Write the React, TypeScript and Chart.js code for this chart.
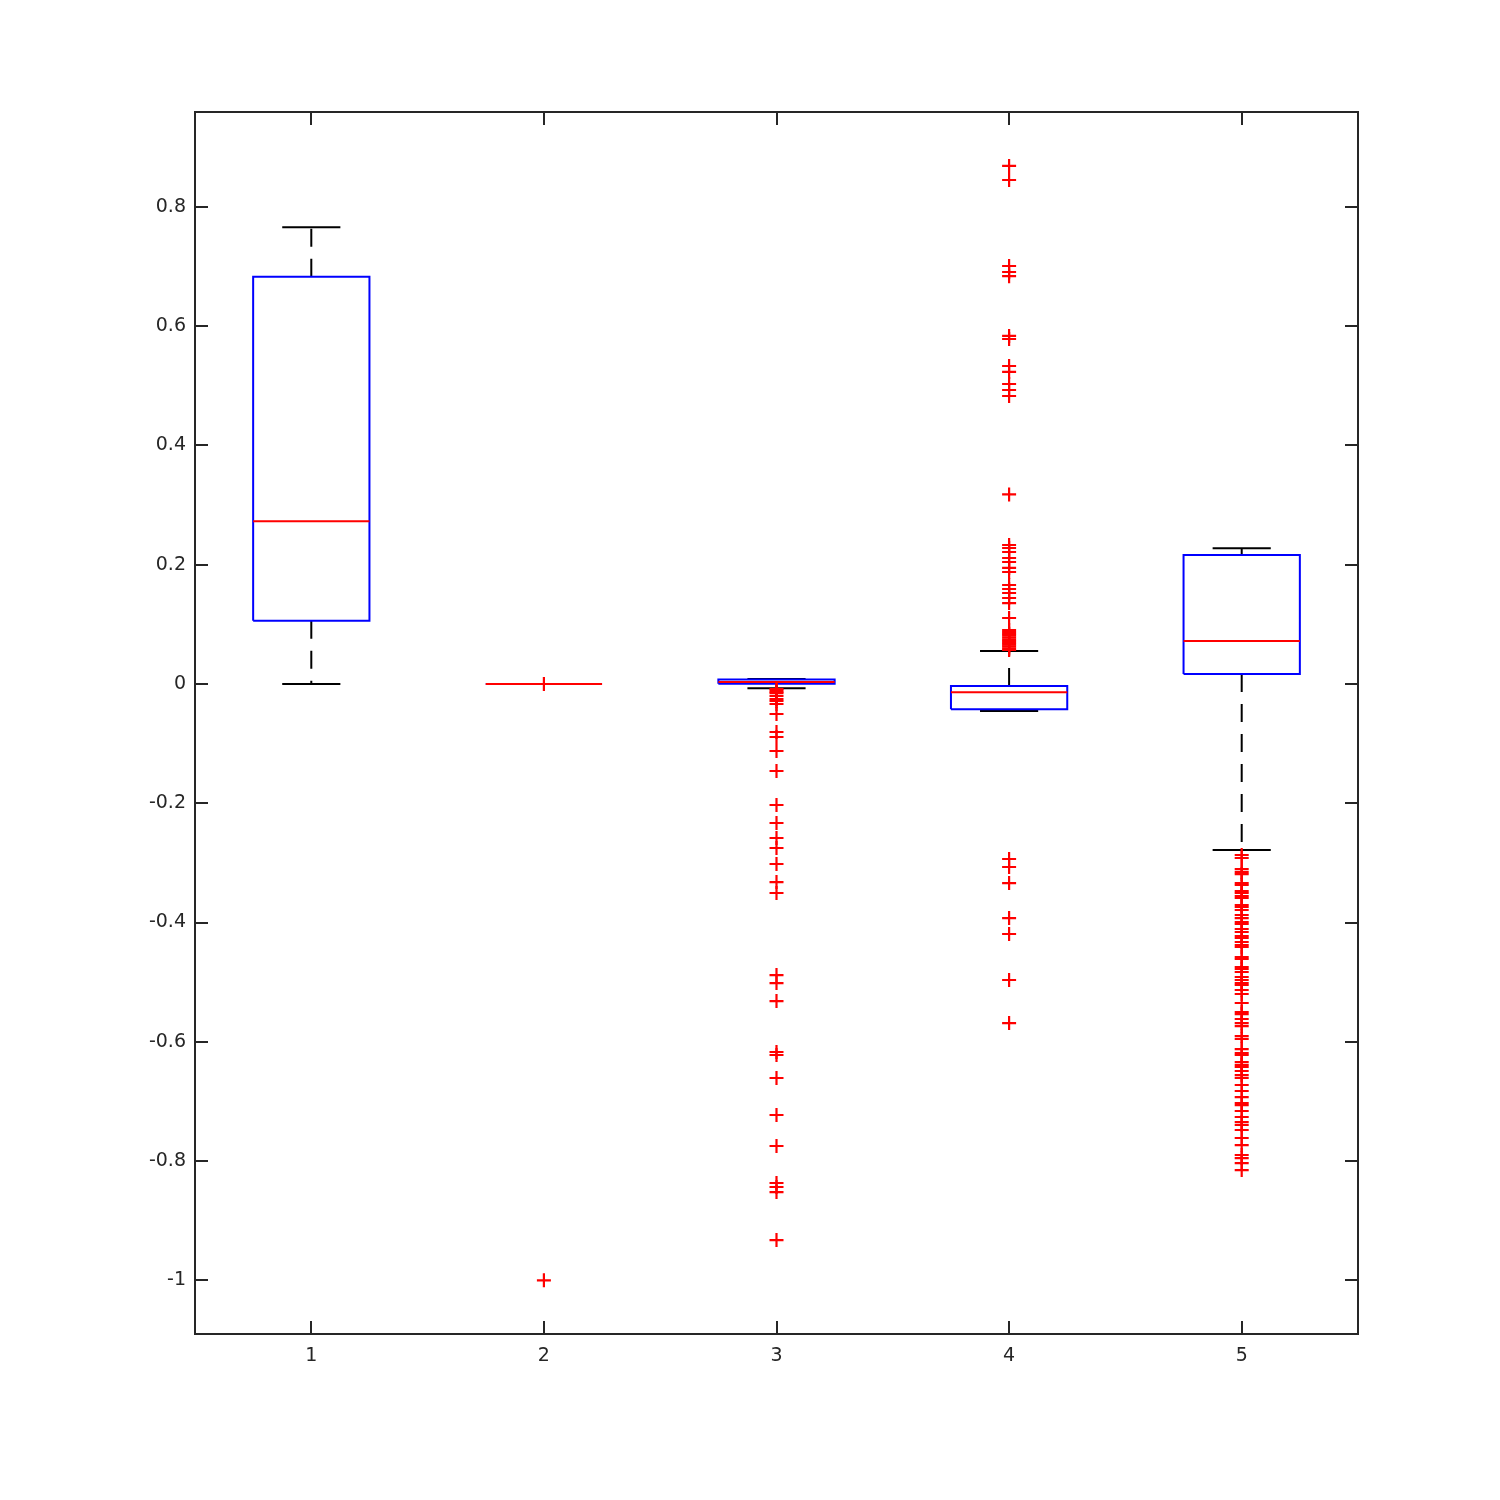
import React, { useEffect, useRef } from "react";
import { Chart, registerables } from "chart.js";

Chart.register(...registerables);

const categories = [1, 2, 3, 4, 5];
const q1 = [0.106, 0, 0.0003, -0.0425, 0.0168];
const median = [0.273, 0, 0.0034, -0.0139, 0.0721];
const q3 = [0.683, 0, 0.0076, -0.0034, 0.2164];
const whiskerLow = [0, 0, -0.0073, -0.0453, -0.2784];
const whiskerHigh = [0.766, 0, 0.0086, 0.0553, 0.2276];

const outliers1: number[] = [];
const outliers2 = [0, -1];
const outliers3 = [
  -0.0084, -0.0105, -0.0134, -0.0155, -0.0201, -0.0252, -0.0285, -0.0335, -0.0503,
  -0.0805, -0.0889, -0.1124, -0.1459, -0.2029, -0.2331, -0.2583, -0.275, -0.3019,
  -0.3321, -0.3505, -0.4881, -0.5015, -0.5317, -0.6172, -0.6222, -0.6608, -0.7228,
  -0.7748, -0.8369, -0.8436, -0.852, -0.9325,
];
const outliers4 = [
  0.8688, 0.8453, 0.701, 0.691, 0.684, 0.5837, 0.5786, 0.5333, 0.5233, 0.5031, 0.4931,
  0.483, 0.318, 0.2331, 0.2281, 0.2214, 0.2113, 0.2046, 0.1946, 0.1878, 0.166, 0.1593,
  0.1526, 0.1442, 0.1358, 0.1107, 0.0905, 0.087, 0.084, 0.081, 0.078, 0.075, 0.072,
  0.069, 0.066, 0.063, 0.06, 0.057, -0.2935, -0.3069, -0.3338, -0.3925, -0.4193,
  -0.4964, -0.5686,
];
const outliers5 = [
  -0.2868, -0.2918, -0.3103, -0.3154, -0.3187, -0.3338, -0.3371, -0.3472, -0.3505,
  -0.3555, -0.3589, -0.3706, -0.374, -0.379, -0.3874, -0.3925, -0.3992, -0.4025,
  -0.4109, -0.4159, -0.4226, -0.426, -0.4327, -0.4377, -0.4411, -0.4579, -0.4612,
  -0.4746, -0.478, -0.483, -0.4914, -0.4964, -0.5015, -0.5048, -0.5132, -0.5199,
  -0.535, -0.5501, -0.5535, -0.5618, -0.5686, -0.5736, -0.5904, -0.5954, -0.6122,
  -0.6189, -0.6222, -0.634, -0.639, -0.6423, -0.649, -0.6558, -0.6608, -0.6725,
  -0.6826, -0.6927, -0.7027, -0.7061, -0.7161, -0.7262, -0.7346, -0.7396, -0.748,
  -0.7614, -0.7732, -0.7899, -0.795, -0.8034, -0.8151,
];
const outliers = [outliers1, outliers2, outliers3, outliers4, outliers5];

const yTicks = [-1, -0.8, -0.6, -0.4, -0.2, 0, 0.2, 0.4, 0.6, 0.8];
const xTicks = categories;

const BOX_HALF = 0.25;
const CAP_HALF = 0.125;
const AXIS_COLOR = "#262626";
const FONT = { family: "'DejaVu Sans', sans-serif", size: 19 };

type Pt = { x: number; y: number | null };

function buildBoxes(): Pt[] {
  const pts: Pt[] = [];
  categories.forEach((c, i) => {
    pts.push({ x: c - BOX_HALF, y: q1[i] });
    pts.push({ x: c + BOX_HALF, y: q1[i] });
    pts.push({ x: c + BOX_HALF, y: q3[i] });
    pts.push({ x: c - BOX_HALF, y: q3[i] });
    pts.push({ x: c - BOX_HALF, y: q1[i] });
    pts.push({ x: c, y: null });
  });
  return pts;
}

function buildMedians(): Pt[] {
  const pts: Pt[] = [];
  categories.forEach((c, i) => {
    pts.push({ x: c - BOX_HALF, y: median[i] });
    pts.push({ x: c + BOX_HALF, y: median[i] });
    pts.push({ x: c, y: null });
  });
  return pts;
}

function buildWhiskers(): Pt[] {
  const pts: Pt[] = [];
  categories.forEach((c, i) => {
    pts.push({ x: c, y: q3[i] });
    pts.push({ x: c, y: whiskerHigh[i] });
    pts.push({ x: c, y: null });
    pts.push({ x: c, y: q1[i] });
    pts.push({ x: c, y: whiskerLow[i] });
    pts.push({ x: c, y: null });
  });
  return pts;
}

function buildCaps(): Pt[] {
  const pts: Pt[] = [];
  categories.forEach((c, i) => {
    pts.push({ x: c - CAP_HALF, y: whiskerHigh[i] });
    pts.push({ x: c + CAP_HALF, y: whiskerHigh[i] });
    pts.push({ x: c, y: null });
    pts.push({ x: c - CAP_HALF, y: whiskerLow[i] });
    pts.push({ x: c + CAP_HALF, y: whiskerLow[i] });
    pts.push({ x: c, y: null });
  });
  return pts;
}

function buildOutliers(): Pt[] {
  const pts: Pt[] = [];
  categories.forEach((c, i) => {
    outliers[i].forEach((v) => pts.push({ x: c, y: v }));
  });
  return pts;
}

const framePlugin = {
  id: "matlabFrame",
  afterDraw(chart: any) {
    const { ctx, chartArea: a, scales } = chart;
    const tl = 13;
    ctx.save();
    ctx.strokeStyle = AXIS_COLOR;
    ctx.lineWidth = 2;
    ctx.beginPath();
    yTicks.forEach((v) => {
      const py = Math.round(scales.y.getPixelForValue(v));
      ctx.moveTo(a.left, py);
      ctx.lineTo(a.left + tl, py);
      ctx.moveTo(a.right, py);
      ctx.lineTo(a.right - tl, py);
    });
    xTicks.forEach((v) => {
      const px = Math.round(scales.x.getPixelForValue(v));
      ctx.moveTo(px, a.bottom);
      ctx.lineTo(px, a.bottom - tl);
      ctx.moveTo(px, a.top);
      ctx.lineTo(px, a.top + tl);
    });
    ctx.stroke();
    ctx.strokeRect(a.left, a.top, a.right - a.left, a.bottom - a.top);
    ctx.restore();
  },
};

export default function App() {
  const ref = useRef<HTMLCanvasElement | null>(null);

  useEffect(() => {
    if (!ref.current) return;
    const lineBase = {
      type: "line" as const,
      showLine: true,
      pointRadius: 0,
      pointHoverRadius: 0,
      borderWidth: 2,
      spanGaps: false,
      fill: false,
      tension: 0,
    };
    const chart = new Chart(ref.current, {
      type: "line",
      data: {
        datasets: [
          {
            ...lineBase,
            data: buildOutliers(),
            type: "scatter",
            showLine: false,
            pointStyle: "cross",
            pointRadius: 7,
            pointBorderWidth: 2.2,
            borderColor: "#ff0000",
            backgroundColor: "#ff0000",
            order: 0,
          } as any,
          { ...lineBase, data: buildMedians(), borderColor: "#ff0000", order: 1 },
          { ...lineBase, data: buildBoxes(), borderColor: "#0000ff", order: 2 },
          { ...lineBase, data: buildCaps(), borderColor: "#000000", order: 3 },
          {
            ...lineBase,
            data: buildWhiskers(),
            borderColor: "#000000",
            borderDash: [18, 12],
            order: 4,
          },
        ],
      },
      options: {
        responsive: false,
        animation: false,
        layout: { padding: { top: 112, right: 142, left: 0, bottom: 0 } },
        plugins: { legend: { display: false }, tooltip: { enabled: false } },
        events: [],
        scales: {
          x: {
            type: "linear",
            min: 0.5,
            max: 5.5,
            grid: { display: false, drawTicks: false, tickLength: 0 },
            border: { display: false },
            afterBuildTicks: (s: any) => {
              s.ticks = xTicks.map((v) => ({ value: v }));
            },
            afterFit: (s: any) => {
              s.height = 166;
            },
            ticks: {
              padding: 11,
              color: AXIS_COLOR,
              font: FONT,
              maxRotation: 0,
              autoSkip: false,
              callback: (v: any) => `${v}`,
            },
          },
          y: {
            type: "linear",
            min: -1.0901,
            max: 0.9593,
            grid: { display: false, drawTicks: false, tickLength: 0 },
            border: { display: false },
            afterBuildTicks: (s: any) => {
              s.ticks = yTicks.map((v) => ({ value: v }));
            },
            afterFit: (s: any) => {
              s.width = 195;
            },
            ticks: {
              padding: 9,
              color: AXIS_COLOR,
              font: FONT,
              autoSkip: false,
              callback: (v: any) => `${v}`,
            },
          },
        },
      },
      plugins: [framePlugin],
    });
    return () => chart.destroy();
  }, []);

  return (
    <div style={{ position: "absolute", left: 0, top: 0, width: 1500, height: 1500, background: "#fff" }}>
      <canvas ref={ref} width={1500} height={1500} />
    </div>
  );
}
